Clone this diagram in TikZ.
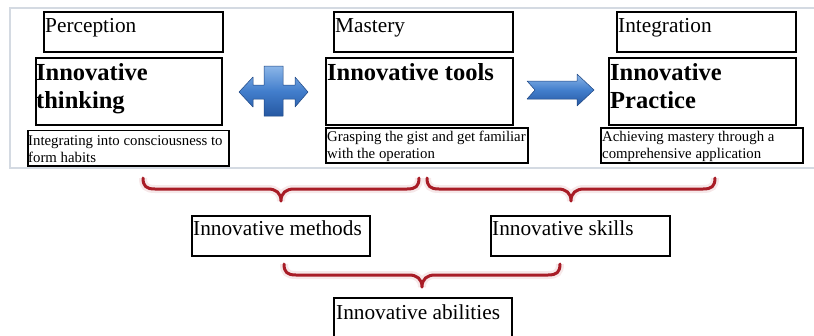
\documentclass[tikz,border=0pt]{standalone}
\usepackage{fontspec}
\setmainfont{Liberation Serif}

\definecolor{panelgray}{RGB}{212,218,226}
\definecolor{bracered}{RGB}{168,28,38}
\definecolor{arrowlight}{RGB}{140,182,232}
\definecolor{arrowmid}{RGB}{66,126,204}
\definecolor{arrowdark}{RGB}{38,88,162}

\tikzset{
  box/.style={
    rectangle, draw=black, line width=1.8pt, anchor=north west, inner sep=0pt,
  },
  heading/.style={
    anchor=north west, inner sep=0pt, font=\fontsize{21.3}{25}\selectfont,
  },
  keyword/.style={
    anchor=north west, inner sep=0pt, align=left,
    font=\fontsize{24.5}{28}\selectfont\bfseries,
  },
  remark/.style={
    anchor=north west, inner sep=0pt, align=left,
    font=\fontsize{14.8}{17}\selectfont,
  },
  curly/.style={
    draw=bracered, line width=3pt, line cap=round, line join=round,
    preaction={draw=bracered!10, line width=8pt},
  },
  blockarrow/.style={
    top color=arrowlight, bottom color=arrowdark, middle color=arrowmid,
    draw=arrowdark!80!black, line width=0.5pt, line join=round,
  }
}

\begin{document}
\begin{tikzpicture}[x=1pt, y=-1pt]
  \useasboundingbox (0,0) rectangle (814,335);

  % top panel
  \draw[panelgray, line width=2pt, fill=white] (10,8) rectangle (830,168);

  % three stages
  \node[box, minimum width=179, minimum height=40] (perc) at (43,11) {};
  \node[box, minimum width=186, minimum height=67] (think) at (35,57) {};
  \node[box, minimum width=201, minimum height=35.5] (habit) at (27,129.5) {};

  \node[box, minimum width=179, minimum height=40] (mast) at (333,11) {};
  \node[box, minimum width=187, minimum height=67] (tools) at (325,57) {};
  \node[box, minimum width=202, minimum height=35] (gist) at (325,127) {};

  \node[box, minimum width=179, minimum height=40] (integ) at (616,11) {};
  \node[box, minimum width=187, minimum height=67] (prac) at (608,57) {};
  \node[box, minimum width=202, minimum height=35] (apply) at (600,127) {};

  \node[heading] at ([shift={(2,7)}]perc.north west) {Perception};
  \node[keyword] at ([shift={(1,6)}]think.north west) {Innovative\\thinking};
  \node[remark]  at ([shift={(1,6)}]habit.north west)
    {Integrating into consciousness to\\form habits};

  \node[heading] at ([shift={(2,7)}]mast.north west) {Mastery};
  \node[keyword] at ([shift={(2,6)}]tools.north west) {Innovative tools};
  \node[remark]  at ([shift={(2,4)}]gist.north west)
    {Grasping the gist and get familiar\\with the operation};

  \node[heading] at ([shift={(2,7)}]integ.north west) {Integration};
  \node[keyword] at ([shift={(2,6)}]prac.north west) {Innovative\\Practice};
  \node[remark]  at ([shift={(2,4)}]apply.north west)
    {Achieving mastery through a\\comprehensive application};

  % block arrows between the stages
  \path[blockarrow] (264,66) -- (283,66) -- (283,85) -- (295,85) -- (295,77)
    -- (308,92) -- (295,107) -- (295,99) -- (283,99) -- (283,116)
    -- (264,116) -- (264,99) -- (253,99) -- (253,107) -- (239,92)
    -- (253,77) -- (253,85) -- (264,85) -- cycle;
  \path[blockarrow] (527,81) -- (577,81) -- (577,74) -- (594,90)
    -- (577,106) -- (577,99) -- (527,99) -- (535,90) -- cycle;

  % results
  \node[box, minimum width=178, minimum height=40] (meth) at (191,215) {};
  \node[box, minimum width=179, minimum height=40] (skill) at (490,215) {};
  \node[box, minimum width=178, minimum height=40] (abil) at (333,297) {};

  \node[heading] at ([shift={(2,6)}]meth.north west) {Innovative methods};
  \node[heading] at ([shift={(2,6)}]skill.north west) {Innovative skills};
  \node[heading] at ([shift={(3,8)}]abil.north west) {Innovative abilities};

  % braces
  \foreach \a/\b/\y in {143/419/178, 427/715/178, 284/560/264} {
    \pgfmathsetmacro\m{(\a+\b)/2}
    \draw[curly] (\a,\y) .. controls (\a,\y+8) and (\a+3,\y+11) .. (\a+12,\y+11)
      -- (\m-13,\y+11) .. controls (\m-5,\y+11) and (\m,\y+15) .. (\m,\y+23)
      .. controls (\m,\y+15) and (\m+5,\y+11) .. (\m+13,\y+11)
      -- (\b-12,\y+11) .. controls (\b-3,\y+11) and (\b,\y+8) .. (\b,\y);
  }
\end{tikzpicture}
\end{document}
